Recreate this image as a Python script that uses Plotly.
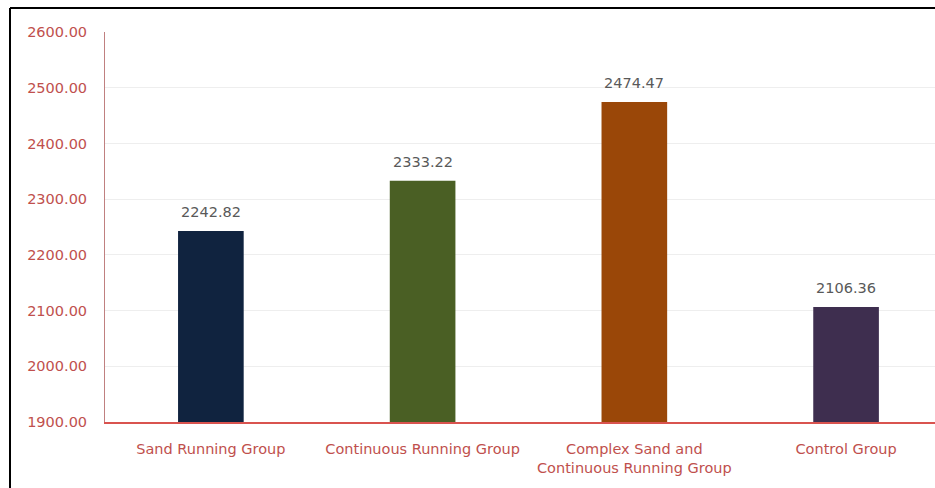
import plotly.graph_objects as go

categories = ["Sand Running Group", "Continuous Running Group",
              "Complex Sand and<br>Continuous Running Group", "Control Group"]
values = [2242.82, 2333.22, 2474.47, 2106.36]
colors = ["#10233f", "#4a5f24", "#9a4708", "#3e2e4f"]
yticks = [1900, 2000, 2100, 2200, 2300, 2400, 2500, 2600]

W, H = 935, 488
ml, mr, mt, mb = 105, 0, 32, 66
FONT = "DejaVu Sans, Liberation Sans, sans-serif"

xs = list(range(len(categories)))
fig = go.Figure(go.Bar(
    x=xs, y=values,
    marker=dict(color=colors, line=dict(width=0)),
    width=0.31,
))

for x, v in zip(xs, values):
    fig.add_annotation(x=x, y=v, text=f"{v:.2f}", showarrow=False,
                       yanchor="bottom", yshift=9,
                       font=dict(family=FONT, size=14.5, color="#595959"))

pw = W - ml - mr
ph = H - mt - mb
fig.update_layout(
    width=W, height=H,
    margin=dict(l=ml, r=mr, t=mt, b=mb),
    paper_bgcolor="white", plot_bgcolor="white",
    showlegend=False,
    font=dict(family=FONT),
    xaxis=dict(
        tickmode="array", tickvals=xs, ticktext=categories,
        range=[-0.5, 3.42],
        showgrid=False, showline=True, linecolor="#d9534f", linewidth=2,
        ticks="", ticklabelstandoff=13,
        tickfont=dict(family=FONT, size=14.5, color="#c0504d"),
    ),
    yaxis=dict(
        range=[1900, 2600], tickvals=yticks,
        ticktext=[f"{t:.2f}" for t in yticks],
        showgrid=True, gridcolor="#eeeeee", gridwidth=1,
        showline=True, linecolor="#c08080", linewidth=1,
        ticks="", ticklabelstandoff=14,
        tickfont=dict(family=FONT, size=14.5, color="#c0504d"),
        zeroline=False,
    ),
    shapes=[
        dict(type="line", xref="paper", yref="paper",
             x0=(10 - ml) / pw, x1=(W - ml) / pw,
             y0=1 + (mt - 8) / ph, y1=1 + (mt - 8) / ph,
             line=dict(color="black", width=2)),
        dict(type="line", xref="paper", yref="paper",
             x0=(10 - ml) / pw, x1=(10 - ml) / pw,
             y0=-mb / ph, y1=1 + (mt - 8) / ph,
             line=dict(color="black", width=2)),
    ],
)

fig.write_html("out.html")
